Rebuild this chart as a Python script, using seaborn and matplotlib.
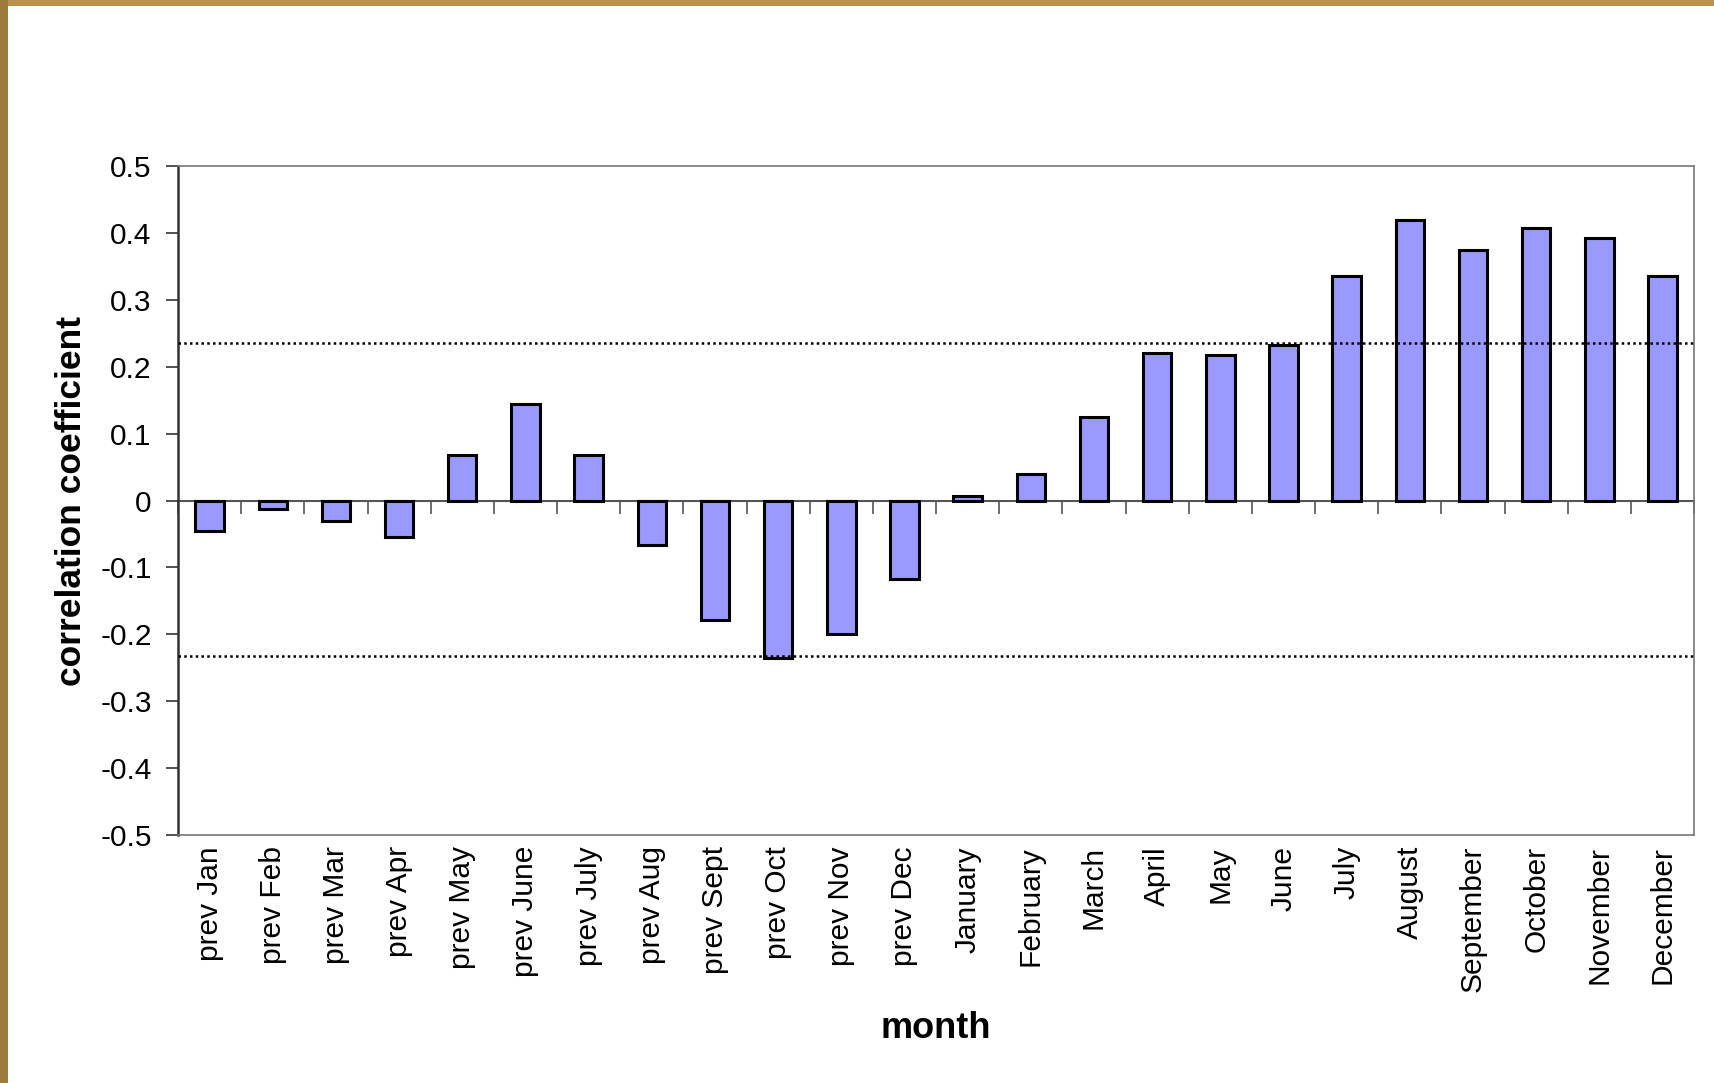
import matplotlib
matplotlib.use("Agg")
import matplotlib.pyplot as plt
import seaborn as sns
import numpy as np
import pandas as pd
from matplotlib.patches import Rectangle

months = ["prev Jan", "prev Feb", "prev Mar", "prev Apr", "prev May", "prev June",
          "prev July", "prev Aug", "prev Sept", "prev Oct", "prev Nov", "prev Dec",
          "January", "February", "March", "April", "May", "June", "July", "August",
          "September", "October", "November", "December"]
corr = [-0.046, -0.012, -0.030, -0.054, 0.068, 0.145, 0.068, -0.066, -0.178, -0.236,
        -0.200, -0.118, 0.007, 0.040, 0.125, 0.221, 0.217, 0.233, 0.335, 0.420,
        0.375, 0.408, 0.392, 0.335]
significance = [0.235, -0.232]
yticks = [0.5, 0.4, 0.3, 0.2, 0.1, 0, -0.1, -0.2, -0.3, -0.4, -0.5]
ytick_labels = ["0.5", "0.4", "0.3", "0.2", "0.1", "0", "-0.1", "-0.2", "-0.3", "-0.4", "-0.5"]

df = pd.DataFrame({"month": months, "corr": corr})

sns.set_theme(style="white")
plt.rcParams["font.family"] = ["Liberation Sans", "DejaVu Sans"]

fig = plt.figure(figsize=(17.15, 10.83), dpi=100)
fig.patch.set_facecolor("white")
ax = fig.add_axes([0.1038, 0.229, 0.884, 0.6177])

sns.barplot(data=df, x="month", y="corr", color="#9999FF", saturation=1,
            edgecolor="black", linewidth=2.2, width=0.45, ax=ax, zorder=3)

ax.set_ylim(-0.5, 0.5)
ax.set_xlim(-0.5, len(months) - 0.5)
ax.set_yticks(yticks)
ax.set_yticklabels(ytick_labels)
ax.tick_params(axis="y", which="major", direction="out", length=9, width=1.2,
               color="#333333", labelsize=21.5, pad=10, left=True, labelcolor="black")
ax.tick_params(axis="x", which="major", length=0, labelsize=21.5, pad=8,
               labelrotation=90, labelcolor="black")

for s in ["top", "right", "bottom"]:
    ax.spines[s].set_color("#777777")
    ax.spines[s].set_linewidth(1.2)
ax.spines["left"].set_color("#333333")
ax.spines["left"].set_linewidth(1.8)

# zero line with category boundary ticks (pointing down)
sec = ax.secondary_xaxis(0.5)
sec.set_xticks(np.arange(len(months) + 1) - 0.5)
sec.set_xticklabels([])
sec.tick_params(direction="in", length=9, width=1.2, color="#555555")
for s in ["bottom", "top"]:
    sec.spines[s].set_color("#555555")
    sec.spines[s].set_linewidth(1.5)

for v in significance:
    ax.axhline(v, color="black", linestyle=(0, (1, 1.3)), linewidth=1.8, zorder=4)

label_font = ["Liberation Sans", "DejaVu Sans"]
ax.set_xlabel("month", fontsize=26, fontweight="bold", family=label_font,
              labelpad=13, color="black")
ax.set_ylabel("correlation coefficient", fontsize=25.5, fontweight="bold",
              family=label_font, labelpad=9, color="black")

# wooden frame edges
fig.patches.append(Rectangle((0, 1 - 6 / 1083), 1, 6 / 1083, transform=fig.transFigure,
                             facecolor="#B8924E", edgecolor="none", zorder=0))
fig.patches.append(Rectangle((0, 0), 8 / 1715, 1, transform=fig.transFigure,
                             facecolor="#9C7A3C", edgecolor="none", zorder=0))

fig.savefig("out.png", dpi=100, facecolor="white")
